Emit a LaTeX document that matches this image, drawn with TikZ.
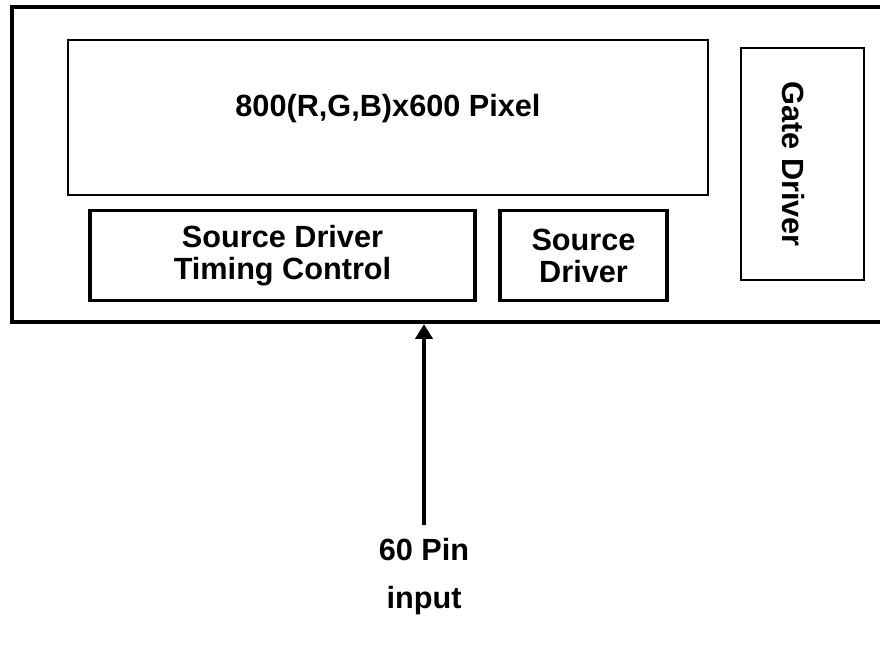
\documentclass[tikz,border=0pt]{standalone}
\usepackage{fontspec}
\setmainfont{Liberation Sans}
\usetikzlibrary{arrows.meta}

\tikzset{
  block/.style={draw, line width=2pt, rectangle, align=center, inner sep=0pt,
    font=\fontsize{23}{24}\selectfont\bfseries},
  label/.style={font=\fontsize{23}{24}\selectfont\bfseries},
}

\begin{document}
\begin{tikzpicture}[x=0.75pt,y=-0.75pt,>={Triangle[length=11pt,width=13pt]},line width=2.4pt]

\useasboundingbox (0,0) rectangle (880,644);
\clip (0,0) rectangle (880,644);

\node[block, line width=3.4pt, minimum width=888*0.75pt, minimum height=315*0.75pt] (panel) at (456,164.5) {};

\node[block, minimum width=640*0.75pt, minimum height=155*0.75pt] (pixel) at (388,117.5) {};
\node[label] (pixtext) at (388,109) {800(R,G,B)x600 Pixel};

\node[block, line width=2.6pt, minimum width=385*0.75pt, minimum height=90*0.75pt] (tcon) at (282.5,255.5) {Source Driver\\Timing Control};
\node[block, line width=2.6pt, minimum width=167*0.75pt, minimum height=90*0.75pt] (src) at (583.5,255.5) {Source\\Driver};

\node[block, line width=2.2pt, minimum width=123*0.75pt, minimum height=232*0.75pt] (gate) at (802.5,164) {};
\node[label, rotate=-90] (gatetext) at (793,164) {Gate Driver};

\coordinate (pin) at (424,525);
\node[align=center, font=\fontsize{23}{36}\selectfont\bfseries] (input) at (424,577) {60 Pin\\input};

% input to panel
\path
	(pin) edge[->] (pin |- panel.south);

\end{tikzpicture}
\end{document}
